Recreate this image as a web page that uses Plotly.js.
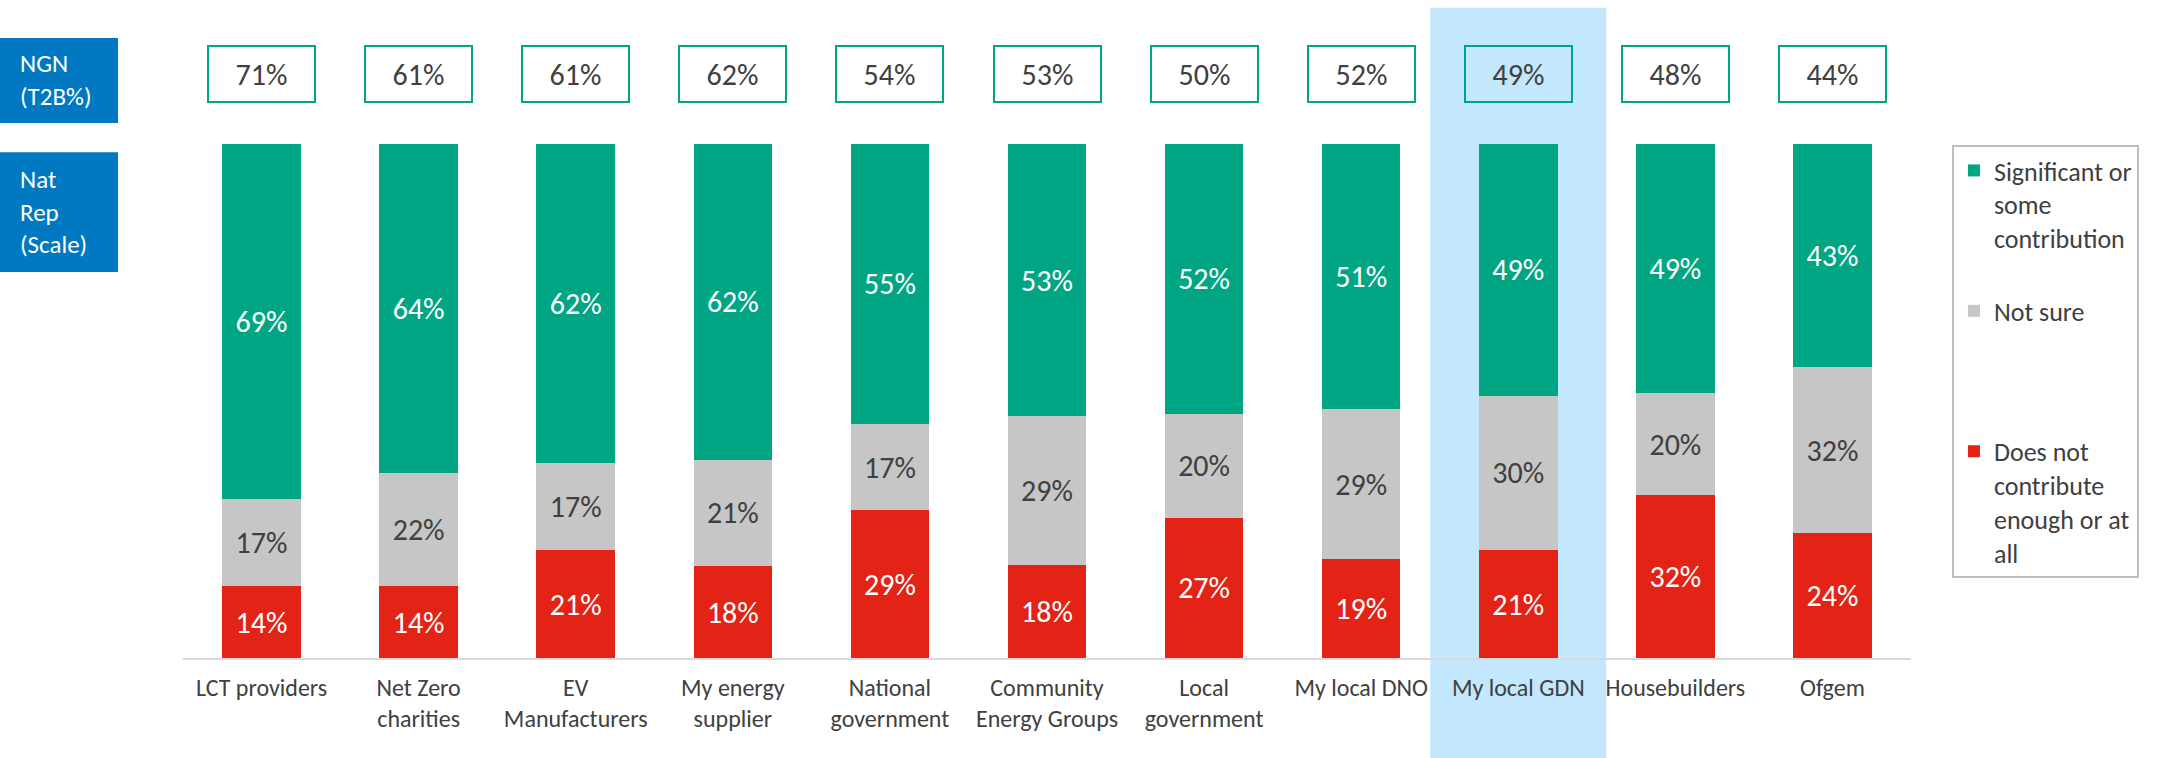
<!DOCTYPE html>
<html>
<head>
<meta charset="utf-8">
<script src="https://cdn.plot.ly/plotly-3.0.1.min.js"></script>
<style>
  html, body { margin: 0; padding: 0; background: #ffffff; }
  #chart { width: 2176px; height: 758px; }
</style>
</head>
<body>
<div id="chart"></div>
<script>
// ---- Data ----
const categories = ["LCT providers", "Net Zero charities", "EV Manufacturers", "My energy supplier",
  "National government", "Community Energy Groups", "Local government", "My local DNO",
  "My local GDN", "Housebuilders", "Ofgem"];
const tickLabels = ["LCT providers", "Net Zero<br>charities", "EV<br>Manufacturers", "My energy<br>supplier",
  "National<br>government", "Community<br>Energy Groups", "Local<br>government", "My local DNO",
  "My local GDN", "Housebuilders", "Ofgem"];
const significant = [69, 64, 62, 62, 55, 53, 52, 51, 49, 49, 43];
const notSure     = [17, 22, 17, 21, 17, 29, 20, 29, 30, 20, 32];
const doesNot     = [14, 14, 21, 18, 29, 18, 27, 19, 21, 32, 24];
const ngnT2B      = [71, 61, 61, 62, 54, 53, 50, 52, 49, 48, 44];
const seriesNames = ["Significant or<br>some<br>contribution", "Not sure<br> <br> ", "Does not<br>contribute<br>enough or at<br>all"];
const highlightCategory = "My local GDN";

// ---- Style ----
const FONT = "Carlito, Lato, 'Open Sans', sans-serif";
const GREEN = "#00a683";
const GREY = "#c6c6c6";
const RED = "#e32315";
const DARK = "#404040";
const BLUE = "#0079c2";
const HIGHLIGHT = "#c3e7fc";

const pct = v => v + "%";

function barTrace(name, values, color, textColor, group, rank) {
  return {
    type: "bar",
    name: name,
    x: categories,
    y: values,
    text: values.map(pct),
    textposition: "inside",
    insidetextanchor: "middle",
    textangle: 0,
    constraintext: "none",
    textfont: { family: FONT, size: 30, color: textColor },
    marker: { color: color, line: { width: 0 } },
    legendgroup: group,
    legendrank: rank,
    hoverinfo: "skip"
  };
}

const data = [
  barTrace(seriesNames[2], doesNot, RED, "#ffffff", "c", 3),
  barTrace(seriesNames[1], notSure, GREY, DARK, "b", 2),
  barTrace(seriesNames[0], significant, GREEN, "#ffffff", "a", 1)
];

const hi = categories.indexOf(highlightCategory);

const shapes = [
  { type: "rect", layer: "below", xref: "x", yref: "paper",
    x0: hi - 0.56, x1: hi + 0.56, y0: -0.195, y1: 1.265,
    fillcolor: HIGHLIGHT, line: { width: 0 } },
  { type: "rect", layer: "below", xref: "paper", yref: "paper",
    x0: -0.1065, x1: -0.0376, y0: 1.041, y1: 1.206,
    fillcolor: BLUE, line: { width: 0 } },
  { type: "rect", layer: "below", xref: "paper", yref: "paper",
    x0: -0.1065, x1: -0.0376, y0: 0.751, y1: 0.984,
    fillcolor: BLUE, line: { width: 0 } }
];

const annotations = categories.map((c, i) => ({
  xref: "x", yref: "paper", x: c, y: 1.137,
  xanchor: "center", yanchor: "middle",
  text: pct(ngnT2B[i]), showarrow: false,
  font: { family: FONT, size: 30, color: DARK },
  bordercolor: GREEN, borderwidth: 2, borderpad: 1,
  width: 103, height: 52, bgcolor: "rgba(0,0,0,0)"
}));
annotations.push(
  { xref: "paper", yref: "paper", x: -0.0955, y: 1.1245, xanchor: "left", yanchor: "middle",
    align: "left", showarrow: false, text: "NGN<br>(T2B%)",
    font: { family: FONT, size: 25, color: "#ffffff" } },
  { xref: "paper", yref: "paper", x: -0.0955, y: 0.8677, xanchor: "left", yanchor: "middle",
    align: "left", showarrow: false, text: "Nat<br>Rep<br>(Scale)",
    font: { family: FONT, size: 25, color: "#ffffff" } }
);

const layout = {
  width: 2176, height: 758,
  margin: { l: 183, r: 265, t: 144, b: 100, pad: 0 },
  paper_bgcolor: "#ffffff", plot_bgcolor: "rgba(0,0,0,0)",
  barmode: "stack", barnorm: "percent", bargap: 0.5,
  font: { family: FONT, color: DARK },
  xaxis: {
    type: "category",
    tickvals: categories, ticktext: tickLabels,
    showline: true, linecolor: "#d9d9d9", linewidth: 2,
    ticks: "", showgrid: false, zeroline: false,
    tickfont: { family: FONT, size: 24, color: DARK },
    ticklabelstandoff: 7,
    fixedrange: true
  },
  yaxis: {
    range: [0, 100], visible: false, showgrid: false, zeroline: false, fixedrange: true
  },
  showlegend: true,
  legend: {
    x: 1.0237, y: 0.998, xanchor: "left", yanchor: "top",
    traceorder: "grouped", tracegroupgap: 36,
    valign: "top",
    bordercolor: "#bfbfbf", borderwidth: 2, bgcolor: "#ffffff",
    font: { family: FONT, size: 26, color: DARK }
  },
  shapes: shapes,
  annotations: annotations
};

Plotly.newPlot("chart", data, layout, { displayModeBar: false, staticPlot: true });
</script>
</body>
</html>
